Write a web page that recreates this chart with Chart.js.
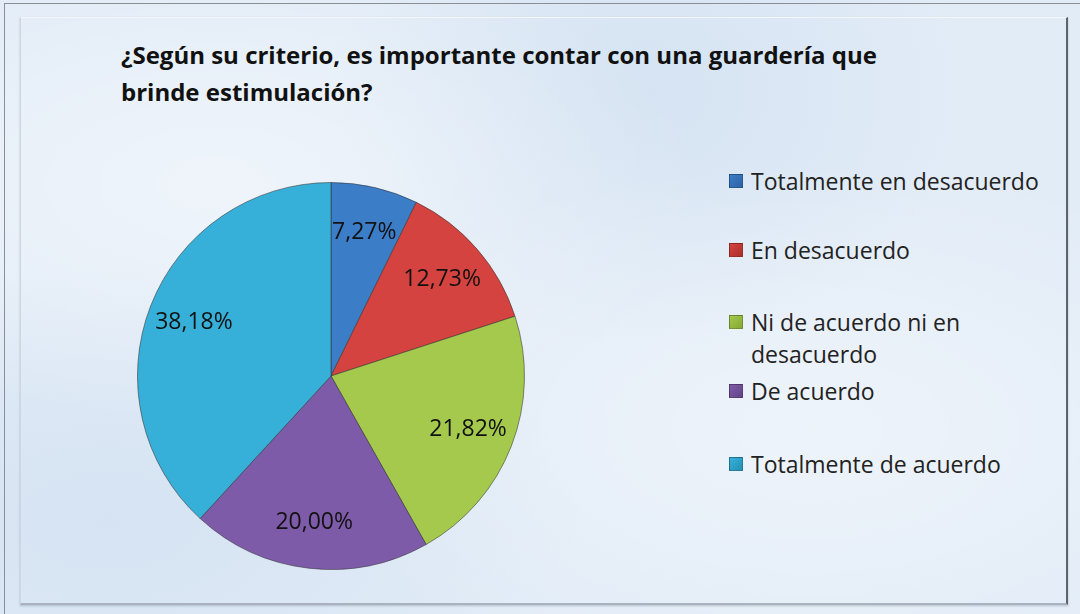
<!DOCTYPE html>
<html>
<head>
<meta charset="utf-8">
<script src="https://cdn.jsdelivr.net/npm/chart.js@4"></script>
<style>
  html,body{margin:0;padding:0;}
  body{width:1080px;height:614px;position:relative;overflow:hidden;font-family:"Open Sans",sans-serif;
    background:#e2ecf7;
    background-image:
      radial-gradient(ellipse at 20% 30%, rgba(255,255,255,.45), rgba(255,255,255,0) 40%),
      radial-gradient(ellipse at 75% 70%, rgba(255,255,255,.4), rgba(255,255,255,0) 45%),
      radial-gradient(ellipse at 60% 15%, rgba(200,218,238,.5), rgba(200,218,238,0) 35%),
      radial-gradient(ellipse at 10% 85%, rgba(200,218,238,.5), rgba(200,218,238,0) 35%);}
  #outer{position:absolute;left:4px;top:3px;width:1080px;height:620px;border-left:1px solid #8a8f96;border-top:1px solid #8a8f96;}
  #inner{position:absolute;left:20px;top:17px;width:1045px;height:585px;border-top:1px solid #f4f6f8;border-left:1px solid #d0d6de;border-right:2px solid #5d636b;border-bottom:2px solid #a9b3bf;box-shadow:0 1px 2px rgba(80,90,100,.3);}
  #title{position:absolute;left:121px;top:36px;font-weight:bold;font-size:24px;line-height:37px;color:#111;white-space:nowrap;}
  #chart{position:absolute;left:137px;top:182px;}
  #legend{position:absolute;left:729px;top:0;font-size:23px;color:#222;}
  .item{position:absolute;left:0;white-space:nowrap;}
  .item .box{position:absolute;left:0;width:14px;height:14px;box-sizing:border-box;border:1px solid rgba(0,0,0,.25);}
  .item .txt{position:absolute;left:22px;line-height:32px;}
</style>
</head>
<body>
<div id="outer"></div>
<div id="inner"></div>
<div id="title">¿Según su criterio, es importante contar con una guardería que<br>brinde estimulación?</div>
<canvas id="chart" width="388" height="388"></canvas>
<div id="legend"></div>
<script>
const labels = ['Totalmente en desacuerdo','En desacuerdo','Ni de acuerdo ni en\ndesacuerdo','De acuerdo','Totalmente de acuerdo'];
const percents = [7.27, 12.73, 21.82, 20.00, 38.18];
const colors = ['#3c7dc8','#d4433f','#a4c94c','#7e5ba8','#36b0d8'];
const darker = ['#2d64a6','#ad2f2c','#86a835','#634487','#2690b5'];
const legendRows = [181, 250, 322, 391, 464];

const $ = id => document.getElementById(id);

// legend
$('legend').innerHTML = labels.map((l,i)=>`<div class="item" style="top:${legendRows[i]-16}px"><div class="box" style="top:${9}px;background:linear-gradient(135deg,${colors[i]},${darker[i]})"></div><div class="txt">${l.replace('\n','<br>')}</div></div>`).join('');

function sliceFill(ctx){
  const chart = ctx.chart, i = ctx.dataIndex;
  const arc = chart.getDatasetMeta(0).data[i];
  if(!arc || !arc.outerRadius) return colors[i];
  const g = chart.ctx.createRadialGradient(arc.x, arc.y, 0, arc.x, arc.y, arc.outerRadius);
  g.addColorStop(0, colors[i]);
  g.addColorStop(0.9, colors[i]);
  g.addColorStop(1, darker[i]);
  return g;
}

const pctLabels = {
  id:'pctLabels',
  afterDatasetsDraw(chart){
    const c = chart.ctx, meta = chart.getDatasetMeta(0);
    c.save();
    c.font = '23px "Open Sans", sans-serif';
    c.fillStyle = '#111';
    c.textAlign = 'center'; c.textBaseline = 'middle';
    meta.data.forEach((arc,i)=>{
      const a = (arc.startAngle + arc.endAngle)/2;
      const r = arc.outerRadius*0.76;
      c.fillText(percents[i].toFixed(2).replace('.',',')+'%', arc.x + Math.cos(a)*r, arc.y + Math.sin(a)*r);
    });
    c.restore();
  }
};

new Chart($('chart'), {
  type:'pie',
  data:{ labels, datasets:[{ data:percents, backgroundColor:sliceFill, borderColor:'rgba(50,50,50,0.55)', borderWidth:1 }] },
  options:{ responsive:false, animation:false, layout:{padding:0},
    plugins:{ legend:{display:false}, tooltip:{enabled:false}, title:{display:false} } },
  plugins:[pctLabels]
});
</script>
</body>
</html>
